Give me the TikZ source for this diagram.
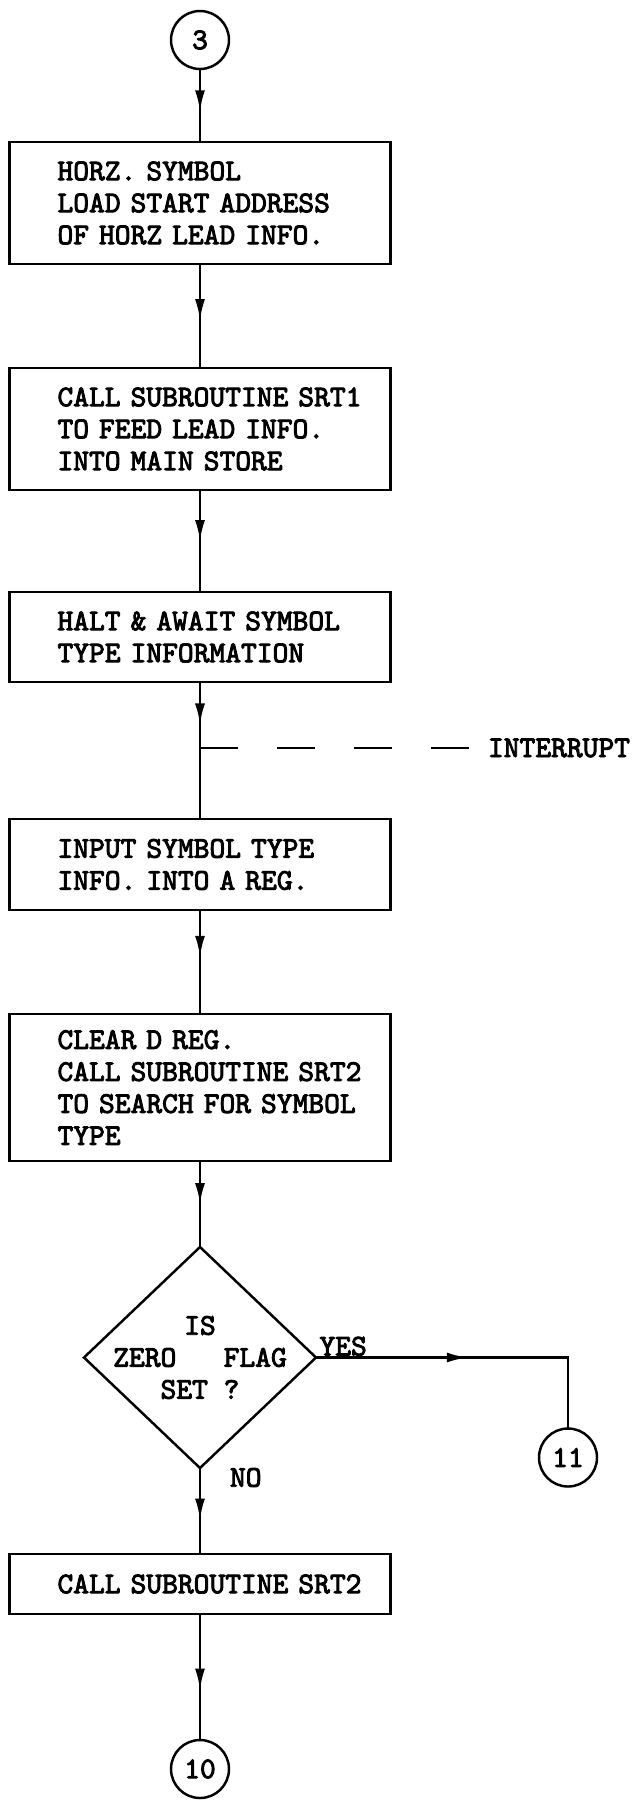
\documentclass[tikz,border=0pt]{standalone}
\usepackage{fontspec}
\newfontfamily\typew[Extension=.otf, FakeBold=3]{lmmono10-regular}
\usetikzlibrary{shapes.geometric, arrows.meta, positioning, decorations.markings}

\begin{document}
\begin{tikzpicture}[
    node distance=2cm and 2cm,
    line width=1.4pt,
    every node/.style={outer sep=0, font=\typew\fontsize{17.1}{18.2}\selectfont},
    stepbox/.style={rectangle, draw, minimum width=7.62cm, text width=7.5cm, inner xsep=0, inner ysep=0.1cm, align=left, execute at begin node={\leftskip=0.9cm}},
    decide/.style={diamond, draw, minimum width=4.64cm, minimum height=4.42cm, inner sep=-0.35cm, align=center},
    conn/.style={circle, draw, minimum size=1.16cm, inner sep=0},
    lbl/.style={inner sep=0},
    flow/.style={postaction={decorate}, decoration={markings, mark=at position #1 with {\arrow{Latex[length=0.42cm,width=0.2cm]}}}},
    flow/.default=0.58,
    irqline/.style={dash pattern=on 0.76cm off 0.78cm}
]
\useasboundingbox (0,0) rectangle (12.64,-36);

\node[conn] (c3) at (4.0,-0.8) {3};
\node[stepbox, minimum height=2.44cm, below=1.46cm of c3] (b1) {HORZ. SYMBOL\\LOAD START ADDRESS\\OF HORZ LEAD INFO.};
\node[stepbox, minimum height=2.44cm, below=2.08cm of b1] (b2) {CALL SUBROUTINE SRT1\\TO FEED LEAD INFO.\\INTO MAIN STORE};
\node[stepbox, minimum height=1.8cm, below=2.04cm of b2] (b3) {HALT \& AWAIT SYMBOL\\TYPE INFORMATION};
\node[stepbox, minimum height=1.82cm, below=2.74cm of b3] (b4) {INPUT SYMBOL TYPE\\INFO. INTO A REG.};
\node[stepbox, minimum height=2.94cm, below=2.08cm of b4] (b5) {CLEAR D REG.\\CALL SUBROUTINE SRT2\\TO SEARCH FOR SYMBOL\\TYPE};
\node[decide, below=1.72cm of b5] (d1) {IS\\ZERO\ \ \ FLAG\\SET ?};
\node[stepbox, minimum height=1.2cm, below=1.72cm of d1] (b6) {CALL SUBROUTINE SRT2};
\node[conn, below=2.52cm of b6] (c10) {10};
\node[conn, right=4.46cm of d1.east, yshift=-2cm] (c11) {11};

\node[lbl, anchor=west] (irq) at (9.76,-14.96) {INTERRUPT};
\coordinate (tap) at (b3.south |- irq.west);
\node[lbl, anchor=south west, xshift=2pt, yshift=1pt] (yes) at (d1.east) {YES};
\node[lbl, below right=0cm and 0.6cm of d1.south] (no) {NO};

\draw[flow] (c3) -- (b1);
\draw[flow=0.54] (b1) -- (b2);
\draw[flow=0.5] (b2) -- (b3);
\draw[flow=0.31] (b3) -- (b4);
\draw[irqline] (tap) -- (irq);
\draw[flow=0.45] (b4) -- (b5);
\draw[flow=0.5] (b5) -- (d1);
\draw[flow=0.6] (d1) -- (b6);
\draw[flow=0.6] (b6) -- (c10);
\draw[flow=0.47] (d1.east) -| (c11.north);
\end{tikzpicture}
\end{document}
